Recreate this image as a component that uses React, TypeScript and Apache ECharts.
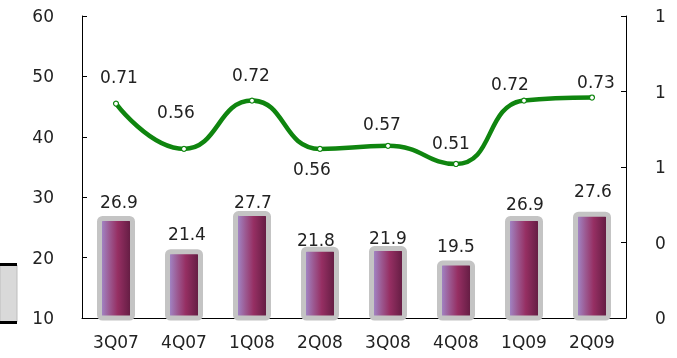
import React, { useEffect, useRef } from "react";
import * as echarts from "echarts";

const categories = ["3Q07", "4Q07", "1Q08", "2Q08", "3Q08", "4Q08", "1Q09", "2Q09"];
const barValues = [26.9, 21.4, 27.7, 21.8, 21.9, 19.5, 26.9, 27.6];
const lineValues = [0.71, 0.56, 0.72, 0.56, 0.57, 0.51, 0.72, 0.73];
const leftTicks = { min: 10, max: 60, interval: 10 };
const rightTicks = { min: 0, max: 1, interval: 0.25 };

// label placement tweaks (pixels), kept apart from the values
const barLabelOffsets = [[3, -5], [3, -7], [1, -1], [-4, 2], [0, 0], [0, -6], [1, -3], [1, -12]];
const lineLabelOffsets = [[3, -27], [-8, -37], [-1, -26], [-8, 20], [-6, -22], [-5, -21], [-14, -17], [4, -16]];

const FONT = "DejaVu Sans";
const TXT = "#222";

export default function App() {
  const ref = useRef<HTMLDivElement>(null);
  useEffect(() => {
    if (!ref.current) return;
    const chart = echarts.init(ref.current, undefined, { renderer: "svg" });
    const barGrad = new echarts.graphic.LinearGradient(0, 0, 1, 0, [
      { offset: 0, color: "#a290d2" },
      { offset: 0.3, color: "#9c5a92" },
      { offset: 0.55, color: "#962f63" },
      { offset: 1, color: "#5c1a3e" },
    ]);
    chart.setOption({
      animation: false,
      textStyle: { fontFamily: FONT },
      grid: { left: 82, right: 51, top: 16, bottom: 40, containLabel: false },
      xAxis: {
        type: "category",
        data: categories,
        boundaryGap: true,
        axisLine: { lineStyle: { color: "#000", width: 1 } },
        axisTick: { inside: true, length: 5, lineStyle: { color: "#000" } },
        axisLabel: { color: TXT, fontSize: 17, fontFamily: FONT, margin: 15 },
      },
      yAxis: [
        {
          type: "value",
          min: leftTicks.min,
          max: leftTicks.max,
          interval: leftTicks.interval,
          axisLine: { show: true, lineStyle: { color: "#000" } },
          axisTick: { show: true, inside: true, length: 5, lineStyle: { color: "#000" } },
          splitLine: { show: false },
          axisLabel: { color: TXT, fontSize: 17, fontFamily: FONT, margin: 28 },
        },
        {
          type: "value",
          position: "right",
          min: rightTicks.min,
          max: rightTicks.max,
          interval: rightTicks.interval,
          axisLine: { show: true, lineStyle: { color: "#000" } },
          axisTick: { show: true, inside: true, length: 5, lineStyle: { color: "#000" } },
          splitLine: { show: false },
          axisLabel: {
            color: TXT,
            fontSize: 17,
            fontFamily: FONT,
            margin: 29,
            formatter: (v: number) => String(Math.round(v)),
          },
        },
      ],
      series: [
        {
          type: "bar",
          yAxisIndex: 0,
          barWidth: 38,
          data: barValues.map((v, i) => ({
            value: v,
            label: { offset: barLabelOffsets[i] },
          })),
          itemStyle: {
            color: barGrad,
            borderColor: "#c4c4c4",
            borderWidth: 5,
            borderRadius: 3,
          },
          label: {
            show: true,
            position: "top",
            distance: 0,
            color: TXT,
            fontSize: 17,
            fontFamily: FONT,
            formatter: (p: any) => p.value.toFixed(1),
          },
          z: 2,
        },
        {
          type: "line",
          yAxisIndex: 1,
          smooth: 0.5,
          symbol: "circle",
          symbolSize: 5,
          lineStyle: { color: "#0f850f", width: 4.5 },
          itemStyle: { color: "#ffffff", borderColor: "#0f850f", borderWidth: 1.2 },
          data: lineValues.map((v, i) => ({
            value: v,
            label: { offset: lineLabelOffsets[i] },
          })),
          label: {
            show: true,
            position: "inside",
            color: TXT,
            fontSize: 17,
            fontFamily: FONT,
            formatter: (p: any) => p.value.toFixed(2),
          },
          z: 5,
        },
      ],
      graphic: [
        {
          type: "rect",
          shape: { x: 0, y: 265, width: 17, height: 57 },
          style: { fill: "#d9d9d9", stroke: "#bdbdbd", lineWidth: 1 },
        },
        {
          type: "rect",
          shape: { x: 0, y: 263, width: 17, height: 3 },
          style: { fill: "#000" },
        },
        {
          type: "rect",
          shape: { x: 0, y: 321, width: 17, height: 3 },
          style: { fill: "#000" },
        },
      ],
    });
    return () => chart.dispose();
  }, []);
  return (
    <div
      ref={ref}
      style={{ position: "fixed", left: 0, top: 0, width: 677, height: 358 }}
    />
  );
}
